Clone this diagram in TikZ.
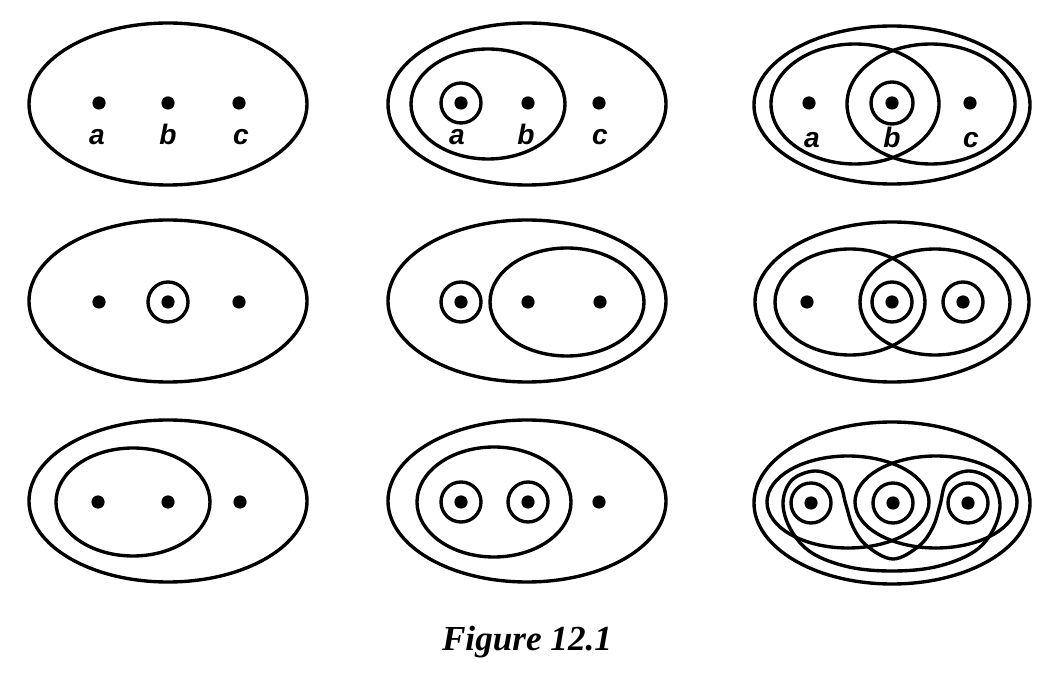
\documentclass[tikz,border=0pt]{standalone}
\usepackage{fontspec}
\setmainfont{Liberation Serif}
\newfontfamily\labfam{Liberation Sans}
\begin{document}
\begin{tikzpicture}[x=0.025cm,y=-0.025cm,
  ln/.style={line width=2.4pt},
  dot/.style={circle,fill=black,inner sep=0pt,minimum size=0.33cm},
  lbl/.style={font=\labfam\bfseries\itshape\fontsize{20}{24}\selectfont,anchor=base,inner sep=0pt},
  figcap/.style={font=\bfseries\itshape\fontsize{25}{30}\selectfont,inner sep=0pt}]
\useasboundingbox (0,0) rectangle (1040,681);
\def\orx{139}\def\ory{81}
% ---------- Row 1 ----------
% col 1
\draw[ln] (168,104) ellipse [x radius=\orx, y radius=\ory];
\node[dot] (a11) at (99,103) {};
\node[dot] (b11) at (168,103) {};
\node[dot] (c11) at (239,103) {};
\node[lbl] (la11) at (97,145) {a};
\node[lbl] (lb11) at (168,145) {b};
\node[lbl] (lc11) at (241,145) {c};
% col 2
\draw[ln] (527,104) ellipse [x radius=\orx, y radius=\ory];
\draw[ln] (488,104) ellipse [x radius=77, y radius=55];
\draw[ln] (461,103) circle [radius=20];
\node[dot] (a12) at (461,103) {};
\node[dot] (b12) at (528,103) {};
\node[dot] (c12) at (599,103) {};
\node[lbl] (la12) at (457,145) {a};
\node[lbl] (lb12) at (526,145) {b};
\node[lbl] (lc12) at (600,145) {c};
% col 3
\draw[ln] (892,105) ellipse [x radius=138, y radius=79];
\draw[ln] (855,104) ellipse [x radius=84, y radius=60];
\draw[ln] (931,104) ellipse [x radius=84, y radius=60];
\draw[ln] (892,103) circle [radius=21];
\node[dot] (a13) at (809,103) {};
\node[dot] (b13) at (892,103) {};
\node[dot] (c13) at (970,103) {};
\node[lbl] (la13) at (812,148) {a};
\node[lbl] (lb13) at (892,148) {b};
\node[lbl] (lc13) at (971,148) {c};
% ---------- Row 2 ----------
% col 1
\draw[ln] (168,301) ellipse [x radius=\orx, y radius=\ory];
\draw[ln] (168,302) circle [radius=20];
\node[dot] (a21) at (99,302) {};
\node[dot] (b21) at (168,302) {};
\node[dot] (c21) at (239,302) {};
% col 2
\draw[ln] (527,301) ellipse [x radius=\orx, y radius=\ory];
\draw[ln] (461,302) circle [radius=20];
\draw[ln] (567,302) ellipse [x radius=77, y radius=54];
\node[dot] (a22) at (461,302) {};
\node[dot] (b22) at (528,302) {};
\node[dot] (c22) at (600,302) {};
% col 3
\draw[ln] (892,302) ellipse [x radius=137, y radius=80];
\draw[ln] (850,302) ellipse [x radius=75, y radius=53];
\draw[ln] (935,302) ellipse [x radius=75, y radius=53];
\draw[ln] (892,302) circle [radius=20];
\draw[ln] (963,302) circle [radius=20];
\node[dot] (a23) at (807,302) {};
\node[dot] (b23) at (892,302) {};
\node[dot] (c23) at (963,302) {};
% ---------- Row 3 ----------
% col 1
\draw[ln] (168,501) ellipse [x radius=\orx, y radius=\ory];
\draw[ln] (133,502) ellipse [x radius=77, y radius=54];
\node[dot] (a31) at (98,502) {};
\node[dot] (b31) at (168,502) {};
\node[dot] (c31) at (240,502) {};
% col 2
\draw[ln] (527,501) ellipse [x radius=\orx, y radius=\ory];
\draw[ln] (494,502) ellipse [x radius=77, y radius=55];
\draw[ln] (461,502) circle [radius=20];
\draw[ln] (528,502) circle [radius=20];
\node[dot] (a32) at (461,502) {};
\node[dot] (b32) at (528,502) {};
\node[dot] (c32) at (599,502) {};
% col 3
\draw[ln] (892,503) ellipse [x radius=138, y radius=81];
\draw[ln] (848,502) ellipse [x radius=81, y radius=46];
\draw[ln] (936,502) ellipse [x radius=81, y radius=46];
\draw[ln] (811,503) circle [radius=20];
\draw[ln] (893,503) circle [radius=20];
\draw[ln] (968,503) circle [radius=20];
\draw[ln] plot[smooth cycle, tension=0.6] coordinates {
  (783,503) (792,480) (816,471) (838,481) (846,505) (853,527) (867,546)
  (893,559) (919,546) (933,527) (940,505) (947,481) (968,471) (991,480)
  (1000,505) (992,532) (972,553) (935,567) (892,571) (849,567) (812,553) (791,530)};
\node[dot] (a33) at (811,503) {};
\node[dot] (b33) at (893,503) {};
\node[dot] (c33) at (968,503) {};
% caption
\node[figcap] (caption) at (527,642) {Figure 12.1};
\end{tikzpicture}
\end{document}
